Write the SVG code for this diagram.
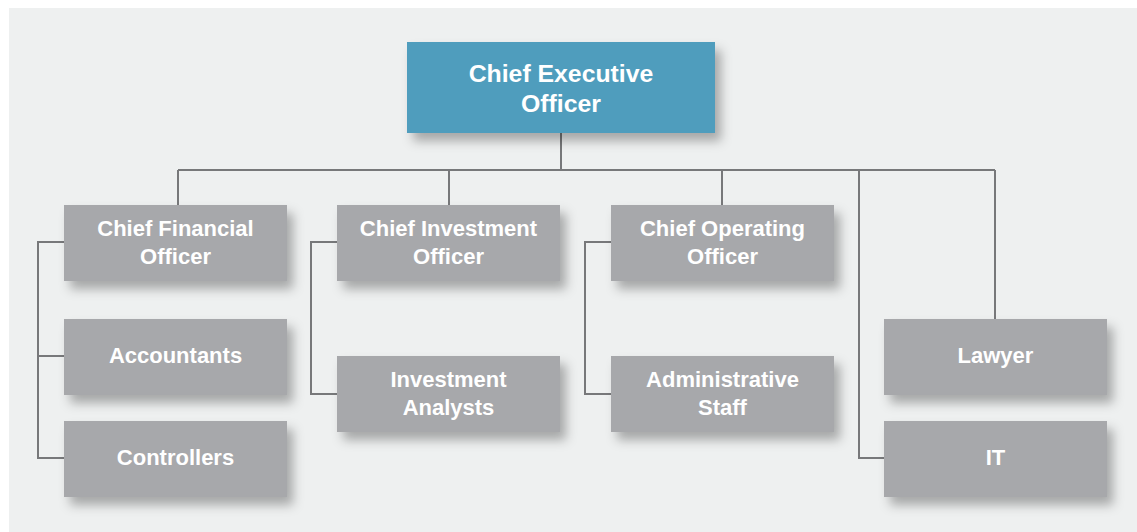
<svg xmlns="http://www.w3.org/2000/svg" width="1137" height="532" viewBox="0 0 1137 532">
<defs>
<filter id="sh" x="-20%" y="-30%" width="150%" height="170%">
<feDropShadow dx="6" dy="8" stdDeviation="5.5" flood-color="#000" flood-opacity="0.3"/>
</filter>
<style>
.box{fill:#a7a8ab;filter:url(#sh)}
.ceo{fill:#4f9dbd;filter:url(#sh)}
.t{font-family:"Liberation Sans",Arial,sans-serif;font-weight:bold;font-size:22px;fill:#fff;text-anchor:middle}
.tc{font-size:24.8px}
.c{fill:none;stroke:#77787a;stroke-width:2}
</style>
</defs>
<rect width="1137" height="532" fill="#fff"/>
<rect x="9" y="8" width="1128" height="524" fill="#eef0f0"/>
<g id="connectors">
<path class="c" d="M561 133V170M178 170H995M178 170V205M449 170V205M722 170V205M995 170V319M859 170V458H884"/>
<path class="c" d="M64 242H38V458H64M38 356H64"/>
<path class="c" d="M337 242H311V394H337"/>
<path class="c" d="M611 242H585V394H611"/>
</g>
<g id="ceo"><rect class="ceo" x="407" y="42" width="308" height="91"/><text class="t tc" x="561" y="82">Chief Executive</text><text class="t tc" x="561" y="112">Officer</text></g>
<g id="cfo"><rect class="box" x="64" y="205" width="223" height="76"/><text class="t" x="175.5" y="236">Chief Financial</text><text class="t" x="175.5" y="264">Officer</text></g>
<g id="accountants"><rect class="box" x="64" y="319" width="223" height="76"/><text class="t" x="175.5" y="363">Accountants</text></g>
<g id="controllers"><rect class="box" x="64" y="421" width="223" height="76"/><text class="t" x="175.5" y="465">Controllers</text></g>
<g id="cio"><rect class="box" x="337" y="205" width="223" height="76"/><text class="t" x="448.5" y="236">Chief Investment</text><text class="t" x="448.5" y="264">Officer</text></g>
<g id="analysts"><rect class="box" x="337" y="356" width="223" height="76"/><text class="t" x="448.5" y="387">Investment</text><text class="t" x="448.5" y="415">Analysts</text></g>
<g id="coo"><rect class="box" x="611" y="205" width="223" height="76"/><text class="t" x="722.5" y="236">Chief Operating</text><text class="t" x="722.5" y="264">Officer</text></g>
<g id="admin"><rect class="box" x="611" y="356" width="223" height="76"/><text class="t" x="722.5" y="387">Administrative</text><text class="t" x="722.5" y="415">Staff</text></g>
<g id="lawyer"><rect class="box" x="884" y="319" width="223" height="76"/><text class="t" x="995.5" y="363">Lawyer</text></g>
<g id="it"><rect class="box" x="884" y="421" width="223" height="76"/><text class="t" x="995.5" y="465">IT</text></g>
</svg>
